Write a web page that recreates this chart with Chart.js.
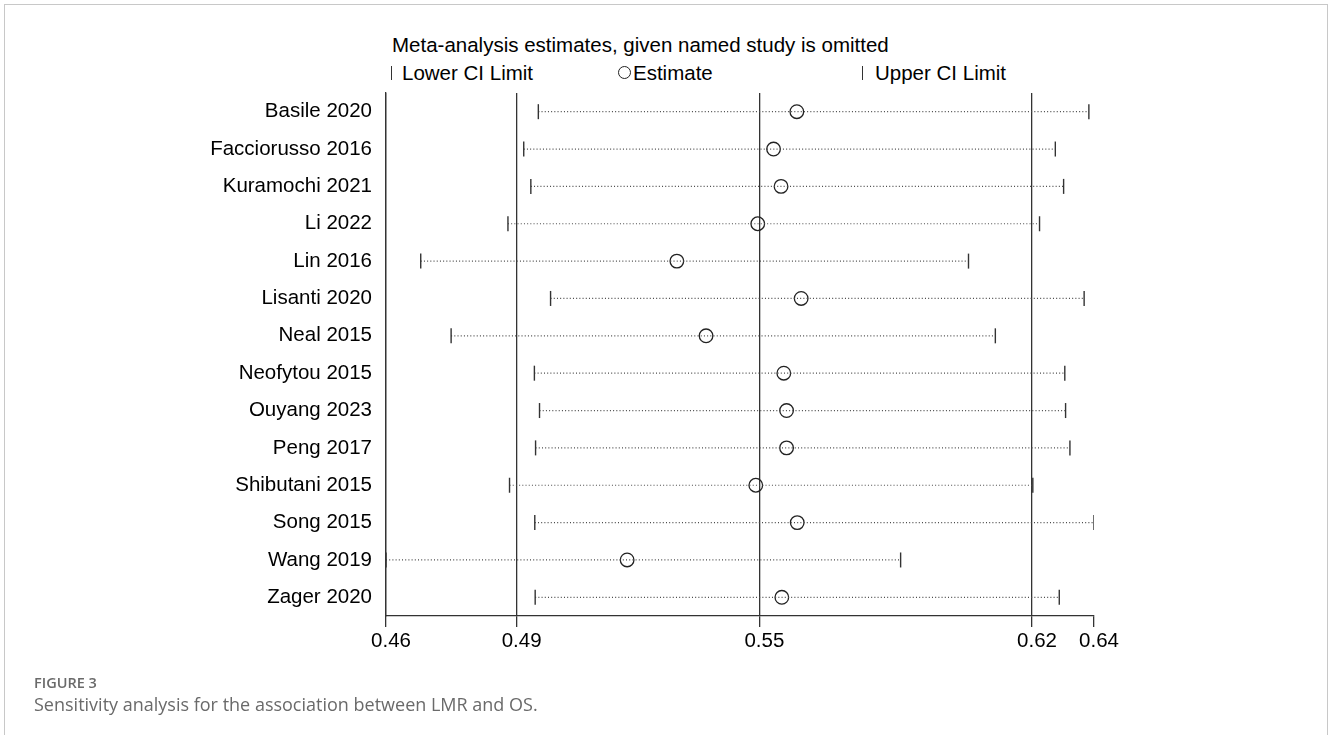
<!DOCTYPE html>
<html>
<head>
<meta charset="utf-8">
<script src="https://cdn.jsdelivr.net/npm/chart.js@4.4.0/dist/chart.umd.min.js"></script>
<style>
  body { margin: 0; background: #fff; width: 1328px; height: 735px; overflow: hidden; position: relative; }
  #frame { position: absolute; left: 4px; top: 4px; width: 1322px; height: 740px;
           border-left: 1px solid #c8c8c8; border-top: 1px solid #c8c8c8; border-right: 1px solid #c8c8c8; }
  #chart_div { position: absolute; left: 0; top: 0; width: 1328px; height: 735px; }
  .hdr { position: absolute; font-family: "Liberation Sans", Arial, sans-serif; font-size: 20.5px;
         line-height: 24px; color: #000; white-space: nowrap; }
  .bar { position: absolute; width: 1.2px; height: 14px; background: #333; }
  .ring { position: absolute; width: 11px; height: 11px; border: 1.2px solid #222; border-radius: 50%; }
  .cap { position: absolute; left: 34px; font-family: "Open Sans", sans-serif; color: #6a6a6a; white-space: nowrap; }
</style>
</head>
<body>
<div id="frame"></div>
<div class="hdr" style="left:392px; top:33px;">Meta-analysis estimates, given named study is omitted</div>
<div class="bar" style="left:391px; top:66px;"></div>
<div class="hdr" style="left:402px; top:61px;">Lower CI Limit</div>
<div class="ring" style="left:618px; top:66px;"></div>
<div class="hdr" style="left:633px; top:61px;">Estimate</div>
<div class="bar" style="left:862px; top:66px;"></div>
<div class="hdr" style="left:875px; top:61px;">Upper CI Limit</div>
<div id="chart_div"><canvas id="myChart" width="1328" height="735"></canvas></div>
<div class="cap" style="top:673px; font-size:14.5px; font-weight:600;">FIGURE 3</div>
<div class="cap" style="top:692px; font-size:18px;">Sensitivity analysis for the association between LMR and OS.</div>
<script>
const studies = ["Basile 2020", "Facciorusso 2016", "Kuramochi 2021", "Li 2022", "Lin 2016",
  "Lisanti 2020", "Neal 2015", "Neofytou 2015", "Ouyang 2023", "Peng 2017",
  "Shibutani 2015", "Song 2015", "Wang 2019", "Zager 2020"];
const lowerCI = [0.4954, 0.4917, 0.4935, 0.4877, 0.4656, 0.4985, 0.4733, 0.4944, 0.4957, 0.4947,
  0.4881, 0.4945, 0.4568, 0.4946];
const estimate = [0.5609, 0.5550, 0.5569, 0.5510, 0.5305, 0.5620, 0.5379, 0.5576, 0.5583, 0.5583,
  0.5505, 0.5610, 0.5179, 0.5571];
const upperCI = [0.6349, 0.6264, 0.6285, 0.6224, 0.6044, 0.6337, 0.6112, 0.6288, 0.6290, 0.6301,
  0.6207, 0.6362, 0.5872, 0.6274];
// axis ends, overall lower CI, overall estimate, overall upper CI
const tickValues = [0.4568, 0.4899, 0.5514, 0.6205, 0.6362];
const tickLabels = ["0.46", "0.49", "0.55", "0.62", "0.64"];

const datasets = [];
for (let i = 0; i < studies.length; i++) {
  datasets.push({
    data: [{ x: lowerCI[i], y: studies[i] }, { x: upperCI[i], y: studies[i] }],
    showLine: true,
    borderColor: "#4a4a4a",
    borderWidth: 1.2,
    borderDash: [1, 2.2],
    pointStyle: "line",
    rotation: 90,
    pointRadius: 7.5,
    pointHoverRadius: 7.5,
    pointBorderColor: "#333",
    pointBorderWidth: 1.4,
  });
}
datasets.push({
  data: estimate.map((v, i) => ({ x: v, y: studies[i] })),
  showLine: false,
  pointStyle: "circle",
  pointRadius: 6.8,
  pointHoverRadius: 6.8,
  pointBackgroundColor: "rgba(0,0,0,0)",
  pointBorderColor: "#222",
  pointBorderWidth: 1.3,
});

const ctx = document.getElementById("myChart");
new Chart(ctx, {
  type: "scatter",
  data: { datasets: datasets },
  options: {
    responsive: false,
    animation: false,
    events: [],
    layout: { padding: { left: 0, right: 234, top: 93, bottom: 0 } },
    plugins: { legend: { display: false }, tooltip: { enabled: false } },
    scales: {
      x: {
        type: "linear",
        min: tickValues[0],
        max: tickValues[tickValues.length - 1],
        afterBuildTicks: (scale) => { scale.ticks = tickValues.map((v) => ({ value: v })); },
        afterFit: (scale) => { scale.height = 119; },
        grid: {
          color: (c) => (c.index === tickValues.length - 1 ? "rgba(0,0,0,0)" : "#333"),
          tickColor: "#333",
          lineWidth: 1.3,
          tickLength: 11,
        },
        border: { display: true, color: "#333", width: 1.3 },
        ticks: {
          autoSkip: false,
          maxRotation: 0,
          labelOffset: 5,
          padding: 2,
          color: "#000",
          font: { family: "Liberation Sans", size: 20.5 },
          callback: (v, i) => tickLabels[i],
        },
      },
      y: {
        type: "category",
        labels: studies,
        offset: true,
        afterFit: (scale) => { scale.width = 386; },
        grid: { display: false, drawTicks: false },
        border: { display: true, color: "#333", width: 1.3 },
        ticks: {
          padding: 14,
          color: "#000",
          font: { family: "Liberation Sans", size: 20.5 },
        },
      },
    },
  },
});
</script>
</body>
</html>
